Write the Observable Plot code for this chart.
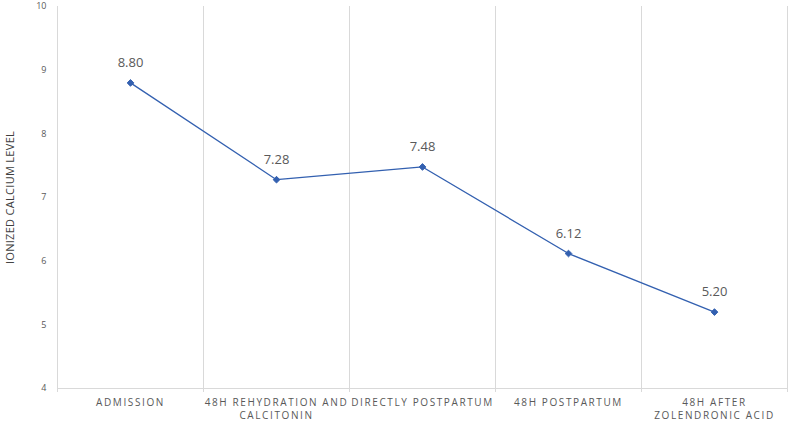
<!DOCTYPE html>
<html><head><meta charset="utf-8">
<script src="https://cdn.jsdelivr.net/npm/d3@7"></script>
<script src="https://cdn.jsdelivr.net/npm/@observablehq/plot@0.6"></script>
<style>
body{margin:0;background:#fff;}
svg text{font-family:"Open Sans",sans-serif;}
g[aria-label="x-axis tick label"] text{letter-spacing:1.6px;}
g[aria-label="y-axis label"] text{font-size:11px;fill:#404040;letter-spacing:0.3px;}
</style>
</head><body><div id="chart"></div>
<script>
const categories = ["ADMISSION","48H REHYDRATION AND\nCALCITONIN","DIRECTLY POSTPARTUM","48H POSTPARTUM","48H AFTER\nZOLENDRONIC ACID"];
const values = [8.80, 7.28, 7.48, 6.12, 5.20];
const yTicks = [4,5,6,7,8,9,10];
const boundaries = [0,1,2,3,4,5];

const data = categories.map((c,i)=>({c, i, pos:i+0.5, v:values[i]}));

const chart = Plot.plot({
  width:790, height:423,
  marginLeft:57, marginRight:3, marginTop:6, marginBottom:35,
  style:{fontFamily:"Open Sans, sans-serif", background:"#fff"},
  x:{domain:[0,5], label:null},
  y:{domain:[4,10]},
  marks:[
    Plot.ruleX(boundaries,{x:d=>d, y1:4, y2:10, stroke:"#d9d9d9", strokeWidth:1}),
    Plot.ruleY([4],{stroke:"#d9d9d9", strokeWidth:1}),
    Plot.axisX({ticks:boundaries, tickSize:4, stroke:"#d9d9d9", tickFormat:()=>"", label:null}),
    Plot.axisX({ticks:data.map(d=>d.pos), tickSize:0, tickPadding:9, tickFormat:(d)=>categories[Math.round(d-0.5)], fontSize:10, fill:"#595959", lineHeight:1.25, label:null}),
    Plot.axisY({ticks:yTicks, tickSize:0, tickPadding:11, tickFormat:"d", fontSize:9, fill:"#595959", label:"IONIZED CALCIUM LEVEL", labelAnchor:"center", labelOffset:51, labelArrow:"none"}),
    Plot.line(data,{x:"pos", y:"v", stroke:"#3360b0", strokeWidth:1.3}),
    Plot.dot(data,{x:"pos", y:"v", symbol:"diamond2", r:3, fill:"#3360b0", stroke:"#3360b0", strokeWidth:1}),
    Plot.text(data,{x:"pos", y:"v", text:d=>d.v.toFixed(2), dy:-20, fontSize:13, fill:"#595959"})
  ]
});
document.getElementById("chart").append(chart);
</script>
</body></html>
